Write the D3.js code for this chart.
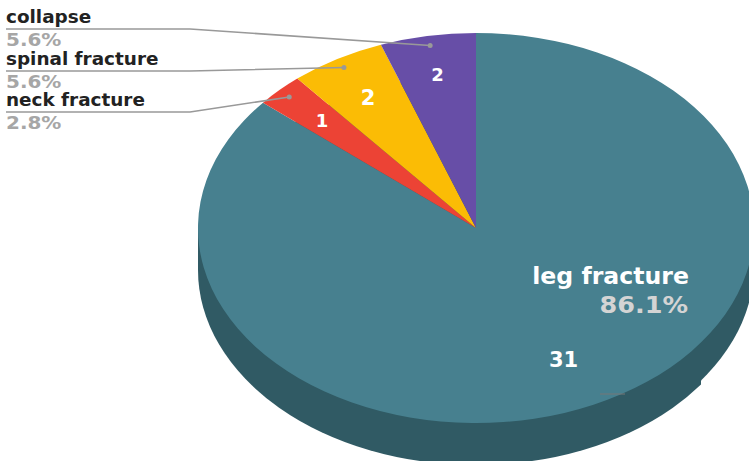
<!DOCTYPE html>
<html>
<head>
<meta charset="utf-8">
<script src="https://cdnjs.cloudflare.com/ajax/libs/d3/7.8.5/d3.min.js"></script>
<style>
	html, body { margin: 0; padding: 0; background: #fff; overflow: hidden; }
	text { font-family: "DejaVu Sans", sans-serif; font-weight: bold; }
</style>
</head>
<body>
<div id="chart"></div>
<script>
	var categories = ["leg fracture", "neck fracture", "spinal fracture", "collapse"];
	var counts = [31, 1, 2, 2];
	var percents = ["86.1%", "2.8%", "5.6%", "5.6%"];
	var colors = ["#47808f", "#ec4335", "#fbbc05", "#674ea7"];

	var width = 749,
		height = 461,
		cx = 476,
		cy = 228,
		rx = 278,
		ry = 195,
		depth = 42,
		shortDepth = 38,
		stepX = 701,
		percentStretch = 1.11;

	var sideColor = "#305a64";

	// how far out each count sits, and how big
	var countRadius = [0.745, 0.783, 0.776, 0.797];
	var countSize = [21, 18, 21, 18];

	var svg = d3.select("#chart").append("svg")
		.attr("width", width)
		.attr("height", height)
		.style("display", "block");

	var data = d3.pie().sort(null).value(function (d) {
		return d;
	})(counts);

	var arc = d3.arc().innerRadius(0).outerRadius(rx);
	var dotArc = d3.arc().innerRadius(rx * 0.95).outerRadius(rx * 0.95);
	var squash = ry / rx;

	// project a point of the flat pie onto the tilted ellipse
	function project(p) {
		return [cx + p[0], cy + p[1] * squash];
	}

	function countPos(d, i) {
		var r = rx * countRadius[i];
		return project(d3.arc().innerRadius(r).outerRadius(r).centroid(d));
	}

	var tilt = "translate(" + cx + "," + cy + ") scale(1," + squash + ")";

	// side of the disc, a little thinner past the step on the right
	var defs = svg.append("defs");
	defs.append("clipPath").attr("id", "sideLeft").append("rect")
		.attr("x", 0).attr("y", 0)
		.attr("width", stepX).attr("height", height);
	defs.append("clipPath").attr("id", "sideRight").append("rect")
		.attr("x", stepX).attr("y", 0)
		.attr("width", width - stepX).attr("height", height);

	function drawSide(d, clip) {
		var g = svg.append("g").attr("clip-path", "url(#" + clip + ")");
		g.append("ellipse")
			.attr("cx", cx)
			.attr("cy", cy + d)
			.attr("rx", rx)
			.attr("ry", ry)
			.attr("fill", sideColor);
		g.append("rect")
			.attr("x", cx - rx)
			.attr("y", cy)
			.attr("width", rx * 2)
			.attr("height", d)
			.attr("fill", sideColor);
	}
	drawSide(depth, "sideLeft");
	drawSide(shortDepth, "sideRight");

	// top of the disc
	svg.append("g")
		.attr("transform", tilt)
		.selectAll("path")
		.data(data)
		.enter().append("path")
		.attr("d", arc)
		.attr("fill", function (d, i) {
			return colors[i];
		});

	// counts inside the slices
	svg.selectAll(".count")
		.data(data)
		.enter().append("text")
		.attr("class", "count")
		.attr("x", function (d, i) {
			return countPos(d, i)[0];
		})
		.attr("y", function (d, i) {
			return countPos(d, i)[1];
		})
		.attr("dy", "0.36em")
		.attr("text-anchor", "middle")
		.attr("font-size", function (d, i) {
			return countSize[i];
		})
		.attr("fill", "#fff")
		.text(function (d) {
			return d.value;
		});

	// percent texts are drawn a bit wider than tall
	function percentText(x, y, size, fill, anchor, str) {
		svg.append("text")
			.attr("transform", "translate(" + x + "," + y + ") scale(" + percentStretch + ",1)")
			.attr("text-anchor", anchor)
			.attr("font-size", size)
			.attr("fill", fill)
			.text(str);
	}

	// left hand labels with their leader lines
	var lineY = { 3: 29, 2: 71, 1: 112 };
	[3, 2, 1].forEach(function (i) {
		var end = project(dotArc.centroid(data[i]));
		var y = lineY[i];
		svg.append("polyline")
			.attr("points", [[6, y], [190, y], end].join(" "))
			.attr("fill", "none")
			.attr("stroke", "#999")
			.attr("stroke-width", 1.6);
		svg.append("circle")
			.attr("cx", end[0])
			.attr("cy", end[1])
			.attr("r", 2.5)
			.attr("fill", "#999");
		svg.append("text")
			.attr("x", 6)
			.attr("y", y - 6)
			.attr("font-size", 18.4)
			.attr("fill", "#222")
			.text(categories[i]);
		percentText(6, y + 17, 18, "#a6a6a6", "start", percents[i]);
	});

	// big slice label sits on the pie
	svg.append("text")
		.attr("x", 689)
		.attr("y", 284)
		.attr("text-anchor", "end")
		.attr("font-size", 23.6)
		.attr("fill", "#fff")
		.text(categories[0]);
	percentText(688, 313, 23, "#d4d4d4", "end", percents[0]);

	svg.append("line")
		.attr("x1", 600)
		.attr("x2", 625)
		.attr("y1", 394)
		.attr("y2", 394)
		.attr("stroke", "#777")
		.attr("stroke-width", 1);
</script>
</body>
</html>
